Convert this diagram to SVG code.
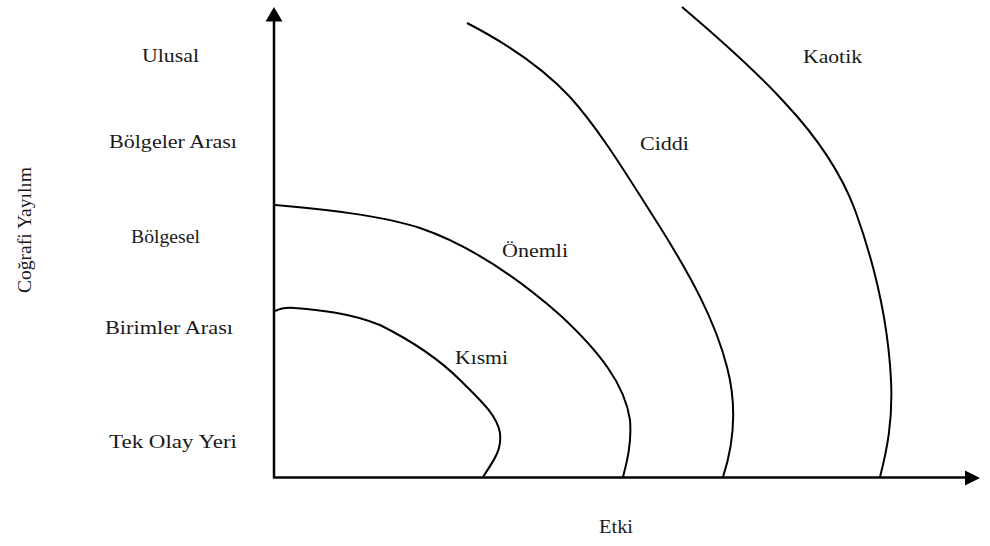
<svg xmlns="http://www.w3.org/2000/svg" width="990" height="546" viewBox="0 0 990 546">
<style>
text{font-family:"Liberation Serif","Times New Roman",serif;font-size:19px;fill:#1a1a1a}
.curve{fill:none;stroke:#000;stroke-width:2}
.axis{fill:none;stroke:#000;stroke-width:2.5}
</style>
<rect width="990" height="546" fill="#fff"/>
<g id="axes">
<line class="axis" x1="274" y1="478" x2="274" y2="20"/>
<polygon points="274,7 265.5,21.5 282.5,21.5" fill="#000"/>
<line class="axis" x1="273" y1="477.5" x2="966" y2="477.5"/>
<polygon points="980,478 965,470.5 965,485.5" fill="#000"/>
</g>
<g id="connectors">
<path id="kismi-curve" class="curve" d="M275,311 C281,308 287,307 295,308 C320,310 350,313 380,325 C410,340 440,360 460,380 C480,400 497,415 500,433 C502,450 494,460 483,477"/>
<path id="onemli-curve" class="curve" d="M275,205 C320,209 380,215 420,228 C470,245 520,280 560,315 C600,352 625,385 630,420 C632,445 626,465 623,477"/>
<path id="ciddi-curve" class="curve" d="M467,23 C500,40 540,65 570,97 C600,130 630,180 660,227 C690,275 715,320 727,367 C737,405 735,440 723,477"/>
<path id="kaotik-curve" class="curve" d="M682,7 C715,35 755,70 785,103 C815,135 840,170 855,210 C875,265 888,320 891,380 C893,420 887,450 880,477"/>
</g>
<g id="y-labels">
<text x="142" y="62" textLength="57" lengthAdjust="spacingAndGlyphs">Ulusal</text>
<text x="109" y="147.5" textLength="128" lengthAdjust="spacingAndGlyphs">Bölgeler Arası</text>
<text x="131" y="243" textLength="69" lengthAdjust="spacingAndGlyphs">Bölgesel</text>
<text x="105" y="334" textLength="128" lengthAdjust="spacingAndGlyphs">Birimler Arası</text>
<text x="109" y="447.5" textLength="128" lengthAdjust="spacingAndGlyphs">Tek Olay Yeri</text>
</g>
<g id="axis-titles">
<text transform="translate(31,293) rotate(-90)" textLength="126" lengthAdjust="spacingAndGlyphs">Coğrafi Yayılım</text>
<text x="599" y="533" textLength="34" lengthAdjust="spacingAndGlyphs">Etki</text>
</g>
<g id="kismi"><text x="455" y="364" textLength="53" lengthAdjust="spacingAndGlyphs">Kısmi</text></g>
<g id="onemli"><text x="502" y="257" textLength="66" lengthAdjust="spacingAndGlyphs">Önemli</text></g>
<g id="ciddi"><text x="640" y="150" textLength="49" lengthAdjust="spacingAndGlyphs">Ciddi</text></g>
<g id="kaotik"><text x="803" y="62.5" textLength="59" lengthAdjust="spacingAndGlyphs">Kaotik</text></g>
</svg>
